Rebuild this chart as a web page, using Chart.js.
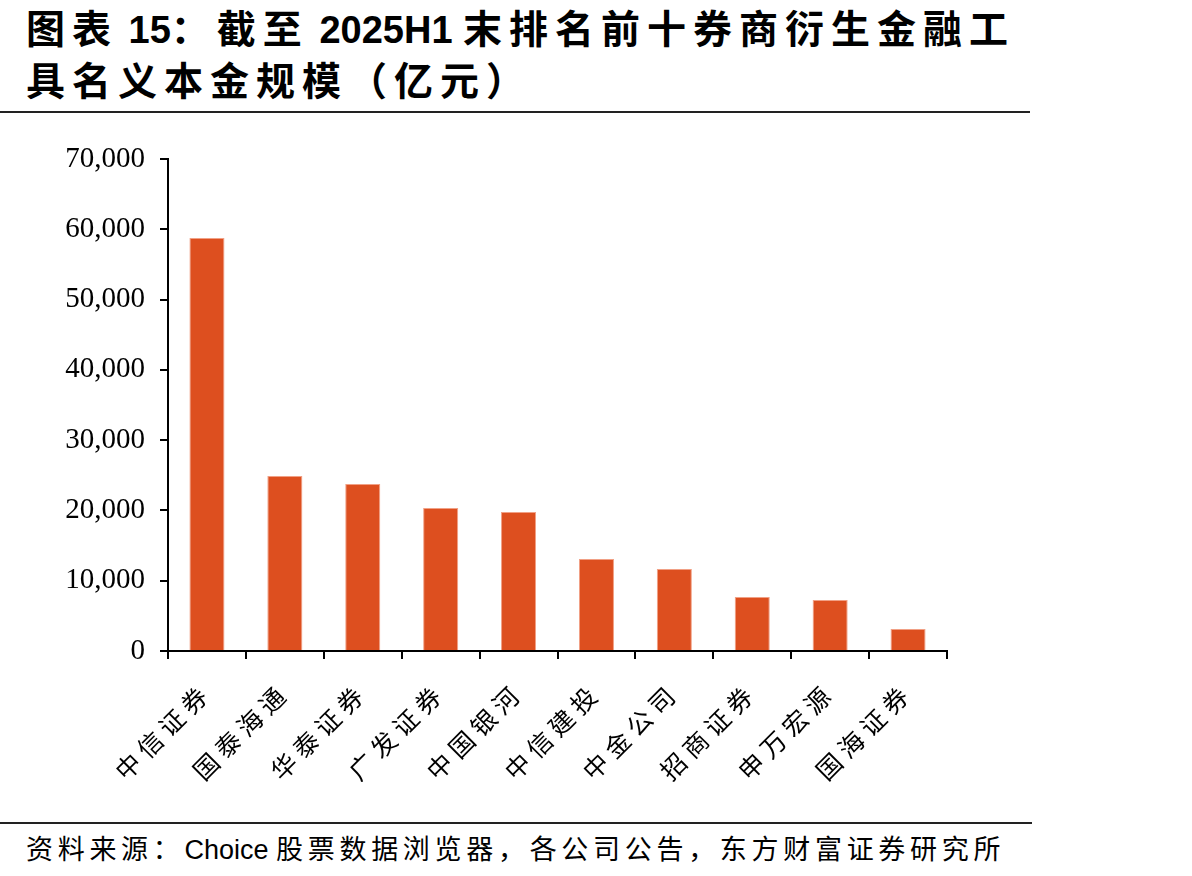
<!DOCTYPE html>
<html>
<head>
<meta charset="utf-8">
<script src="https://cdn.jsdelivr.net/npm/chart.js@4"></script>
<style>
  body { margin: 0; background: #fff; width: 1192px; height: 876px; position: relative; overflow: hidden; }
  #title { position: absolute; left: 26px; top: 4px; font-family: "Liberation Sans", "Noto Sans CJK SC", sans-serif; font-weight: bold; font-size: 39px; line-height: 51px; color: #000; letter-spacing: 7px; white-space: nowrap; }
  #title .lat { letter-spacing: 0; font-size: 38px; }
  .rule { position: absolute; left: 0; height: 2px; background: #222; }
  #source { position: absolute; left: 26px; top: 828px; font-family: "Liberation Sans", "Noto Sans CJK SC", sans-serif; font-size: 27px; color: #000; letter-spacing: 4.7px; white-space: nowrap; }
  #source .lat { letter-spacing: 0; }
  #chartBox { position: absolute; left: 0; top: 0; width: 1192px; height: 876px; }
</style>
</head>
<body>
<div id="title">图表<span class="lat"> 15</span>：截至<span class="lat"> 2025H1 </span>末排名前十券商衍生金融工<br>具名义本金规模（亿元）</div>
<div class="rule" style="top:111px; width:1030px;"></div>
<div class="rule" style="top:822px; width:1032px;"></div>
<div id="source">资料来源：<span class="lat">Choice </span>股票数据浏览器，各公司公告，东方财富证券研究所</div>
<div id="chartBox"><canvas id="barChart" width="1192" height="876"></canvas></div>
<script>
// Categories and values (亿元)
const brokers = ['中信证券', '国泰海通', '华泰证券', '广发证券', '中国银河', '中信建投', '中金公司', '招商证券', '申万宏源', '国海证券'];
const notional = [58750, 24900, 23750, 20350, 19780, 13090, 11660, 7680, 7250, 3130];
const yTicks = [0, 10000, 20000, 30000, 40000, 50000, 60000, 70000];

// spread out the x axis labels a bit, like the original
const spacedLabels = {
    id: 'spacedLabels',
    afterLayout(chart) {
        const xs = chart.scales.x;
        if (xs._spaced) return;
        const orig = xs.drawLabels;
        xs.drawLabels = function (area) {
            chart.ctx.save();
            chart.ctx.letterSpacing = '6px';
            orig.call(this, area);
            chart.ctx.restore();
        };
        xs._spaced = true;
    }
};

const ctx = document.getElementById('barChart').getContext('2d');
new Chart(ctx, {
    type: 'bar',
    data: {
        labels: brokers,
        datasets: [{
            data: notional,
            backgroundColor: '#DD4F1F',
            borderColor: 'rgba(240,150,120,0.9)',
            borderWidth: 1,
            barPercentage: 0.45,
            categoryPercentage: 1.0
        }]
    },
    options: {
        responsive: false,
        animation: false,
        layout: { padding: { top: 159, left: 0, right: 245, bottom: 0 } },
        plugins: {
            legend: { display: false },
            tooltip: { enabled: false }
        },
        scales: {
            x: {
                grid: { display: true, offset: true, drawOnChartArea: false, drawTicks: true, tickLength: 8, color: '#000', lineWidth: 2 },
                border: { display: true, color: '#000', width: 2 },
                ticks: {
                    color: '#000',
                    font: { family: '"Noto Sans CJK SC"', size: 25 },
                    maxRotation: 45,
                    minRotation: 45,
                    padding: 18
                },
                afterFit: function (scale) { scale.height = 225; }
            },
            y: {
                min: 0,
                max: 70000,
                afterBuildTicks: function (scale) { scale.ticks = yTicks.map(v => ({ value: v })); },
                grid: { display: true, drawOnChartArea: false, drawTicks: true, tickLength: 8, color: '#000', lineWidth: 2 },
                border: { display: true, color: '#000', width: 2 },
                ticks: {
                    color: '#000',
                    font: { family: '"Liberation Serif"', size: 29 },
                    padding: 15,
                    callback: function (v) { return v.toLocaleString('en-US'); }
                },
                afterFit: function (scale) { scale.width = 168; }
            }
        }
    },
    plugins: [spacedLabels]
});
</script>
</body>
</html>
